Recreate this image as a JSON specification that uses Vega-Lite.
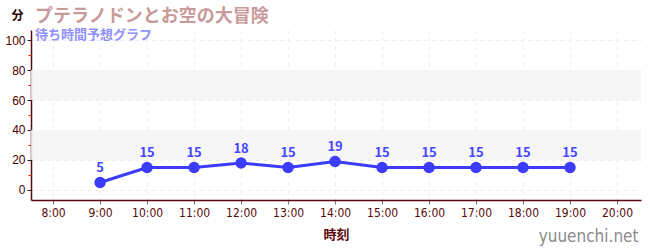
{
  "$schema": "https://vega.github.io/schema/vega-lite/v6.json",
  "width": 610,
  "height": 170,
  "autosize": "none",
  "padding": {"left": 31, "top": 30, "right": 9, "bottom": 50},
  "background": "white",
  "title": {
    "text": "プテラノドンとお空の大冒険",
    "subtitle": "\u2002待ち時間予想グラフ",
    "anchor": "start",
    "frame": "group",
    "dx": 4,
    "offset": -33,
    "font": "Noto Sans CJK JP",
    "fontSize": 18,
    "fontWeight": "bold",
    "color": "#c99a9a",
    "subtitleFont": "Noto Sans CJK JP",
    "subtitleFontSize": 13,
    "subtitleFontWeight": "bold",
    "subtitleColor": "#9090ff",
    "subtitlePadding": 3
  },
  "datasets": {
    "waits": [
      {"hour": 9, "wait": 5},
      {"hour": 10, "wait": 15},
      {"hour": 11, "wait": 15},
      {"hour": 12, "wait": 18},
      {"hour": 13, "wait": 15},
      {"hour": 14, "wait": 19},
      {"hour": 15, "wait": 15},
      {"hour": 16, "wait": 15},
      {"hour": 17, "wait": 15},
      {"hour": 18, "wait": 15},
      {"hour": 19, "wait": 15}
    ],
    "bands": [
      {"lo": 20, "hi": 40},
      {"lo": 60, "hi": 80}
    ]
  },
  "layer": [
    {
      "layer": [
        {
          "data": {"name": "bands"},
          "mark": {"type": "rect", "fill": "#f5f5f5", "opacity": 0.85, "strokeWidth": 0},
          "encoding": {
            "x": {"value": 0},
            "x2": {"value": "width"},
            "y": {"field": "lo", "type": "quantitative"},
            "y2": {"field": "hi"}
          }
        },
        {
          "data": {"name": "waits"},
          "mark": {"type": "line", "color": "#3c3cff", "strokeWidth": 3},
          "encoding": {
            "x": {"field": "hour", "type": "quantitative"},
            "y": {"field": "wait", "type": "quantitative"}
          }
        },
        {
          "data": {"name": "waits"},
          "mark": {"type": "circle", "color": "#3c3cff", "size": 130, "opacity": 1},
          "encoding": {
            "x": {"field": "hour", "type": "quantitative"},
            "y": {"field": "wait", "type": "quantitative"}
          }
        },
        {
          "data": {"name": "waits"},
          "mark": {"type": "text", "color": "#4646ff", "dy": -14, "font": "Noto Sans CJK JP", "fontSize": 13, "fontWeight": "bold"},
          "encoding": {
            "x": {"field": "hour", "type": "quantitative"},
            "y": {"field": "wait", "type": "quantitative"},
            "text": {"field": "wait", "type": "quantitative"}
          }
        }
      ],
      "encoding": {
        "x": {
          "field": "hour",
          "type": "quantitative",
          "scale": {"domain": [7.53, 20.51], "nice": false, "zero": false},
          "axis": {
            "orient": "bottom",
            "values": [8, 9, 10, 11, 12, 13, 14, 15, 16, 17, 18, 19, 20],
            "labelExpr": "datum.value + ':00'",
            "title": "時刻",
            "titleFont": "Noto Sans CJK JP",
            "titleFontSize": 13,
            "titleFontWeight": "bold",
            "titleColor": "#5a0a0a",
            "titlePadding": 10,
            "labelFont": "Liberation Sans Narrow, DejaVu Sans Condensed, sans-serif",
            "labelFontSize": 12,
            "labelColor": "#5a0a0a",
            "labelPadding": 3,
            "domainColor": "#5a0a0a",
            "domainWidth": 1.5,
            "tickColor": "#777777",
            "tickSize": 4,
            "grid": true,
            "gridColor": "#ededed",
            "gridDash": [4, 4]
          }
        },
        "y": {
          "scale": {"domain": [-6.7, 106.7], "nice": false, "zero": false},
          "axis": {
            "orient": "left",
            "values": [0, 20, 40, 60, 80, 100],
            "title": "分",
            "titleAngle": 0,
            "titleX": -14,
            "titleY": -15,
            "titleAlign": "center",
            "titleBaseline": "middle",
            "titleFont": "Noto Sans CJK JP",
            "titleFontSize": 12,
            "titleFontWeight": "bold",
            "titleColor": "#2a0000",
            "labelFont": "Liberation Sans, sans-serif",
            "labelFontSize": 12,
            "labelColor": "#4a0000",
            "labelPadding": 2,
            "domainColor": "#5a0a0a",
            "domainWidth": 1.5,
            "tickColor": "#222222",
            "tickSize": 4,
            "grid": true,
            "gridColor": "#ededed",
            "gridDash": [4, 4]
          }
        }
      }
    },
    {
      "data": {"name": "waits"},
      "mark": {"type": "point", "opacity": 0},
      "encoding": {
        "x": {
          "field": "hour",
          "type": "quantitative",
          "axis": {
            "orient": "bottom",
            "labels": false,
            "ticks": false,
            "domain": false,
            "grid": false,
            "title": "yuuenchi.net",
            "titleX": 607,
            "titleY": 41,
            "titleAlign": "right",
            "titleBaseline": "alphabetic",
            "titleFont": "DejaVu Sans Condensed, DejaVu Sans",
            "titleFontSize": 17,
            "titleFontWeight": "normal",
            "titleColor": "#8a8a8a"
          }
        },
        "y": {
          "field": "wait",
          "type": "quantitative",
          "axis": {
            "orient": "left",
            "values": [10, 30, 50, 70, 90],
            "labels": false,
            "domain": false,
            "grid": false,
            "title": null,
            "tickColor": "#dd2222",
            "tickSize": 3
          }
        }
      }
    }
  ],
  "resolve": {"axis": {"x": "independent", "y": "independent"}},
  "config": {"view": {"stroke": null}}
}
